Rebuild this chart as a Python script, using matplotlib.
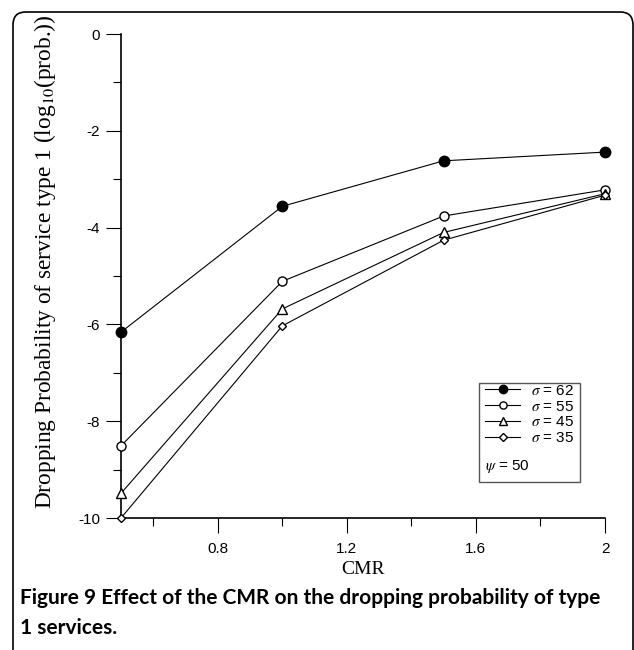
import matplotlib
matplotlib.use('Agg')
import matplotlib.pyplot as plt
from matplotlib.patches import FancyBboxPatch, Rectangle
from matplotlib.ticker import MultipleLocator, FixedLocator

plt.rcParams['axes.unicode_minus'] = False
plt.rcParams['mathtext.fontset'] = 'stix'

# data
cmr = [0.5, 1.0, 1.5, 2.0]
sigma62 = [-6.16, -3.56, -2.62, -2.44]
sigma55 = [-8.51, -5.11, -3.76, -3.22]
sigma45 = [-9.49, -5.68, -4.10, -3.30]
sigma35 = [-10.0, -6.03, -4.26, -3.33]
labels = [r'$\sigma$ = 62', r'$\sigma$ = 55', r'$\sigma$ = 45', r'$\sigma$ = 35']

W, H = 634, 650
fig = plt.figure(figsize=(W / 100, H / 100), dpi=100)
ax = fig.add_axes([121 / W, (H - 518) / H, 484 / W, 484 / H])

styles = [
    dict(marker='o', ms=7.5, mfc='black', mec='black'),
    dict(marker='o', ms=6.5, mfc='white', mec='black', mew=1.0),
    dict(marker='^', ms=7, mfc='white', mec='black', mew=1.0),
    dict(marker='D', ms=4.5, mfc='white', mec='black', mew=1.0),
]
series = [sigma62, sigma55, sigma45, sigma35]
handles = []
for s, st, lab in zip(series, styles, labels):
    h, = ax.plot(cmr, s, color='black', lw=0.8, label=lab, clip_on=False, zorder=3, **st)
    handles.append(h)

ax.set_xlim(0.5, 2.0)
ax.set_ylim(-10, 0)
ax.spines['top'].set_visible(False)
ax.spines['right'].set_visible(False)
ax.spines['left'].set_linewidth(1.2)
ax.spines['bottom'].set_linewidth(1.2)

ax.xaxis.set_major_locator(FixedLocator([0.8, 1.2, 1.6, 2.0]))
ax.xaxis.set_minor_locator(FixedLocator([0.6, 1.0, 1.4, 1.8]))
ax.set_xticklabels(['0.8', '1.2', '1.6', '2'])
ax.yaxis.set_major_locator(MultipleLocator(2))
ax.yaxis.set_minor_locator(MultipleLocator(1))
ax.tick_params(which='major', direction='out', length=11, width=0.8, labelsize=11,
               pad=4, colors='black')
ax.tick_params(which='minor', direction='out', length=5.5, width=0.8)
ax.tick_params(axis='x', which='major', pad=6)
for t in ax.get_xticklabels() + ax.get_yticklabels():
    t.set_fontfamily('Liberation Sans')

ax.set_xlabel('CMR', fontfamily='Liberation Serif', fontsize=14, labelpad=4)
ax.set_ylabel(r'Dropping Probability of service type 1 (log$_{10}$(prob.))',
              fontfamily='Liberation Serif', fontsize=16.8)
ax.yaxis.set_label_coords(-0.13, 0.53)

# legend box
leg = ax.legend(handles=handles, loc='upper left', bbox_to_anchor=(0.74, 0.29),
                frameon=False, fontsize=11, handlelength=2.3, handletextpad=0.7,
                labelspacing=0.12, borderaxespad=0, markerscale=0.8)
for t in leg.get_texts():
    t.set_fontfamily('Liberation Sans')
ax.add_patch(Rectangle((0.74, 0.074), 0.208, 0.205, transform=ax.transAxes,
                       fill=False, edgecolor='#555555', lw=1.0, clip_on=False))
ax.text(0.752, 0.107, r'$\psi$ = 50', transform=ax.transAxes, fontsize=11,
        fontfamily='Liberation Sans', va='center')

# rounded frame around the figure
frame = FancyBboxPatch((13 / W, -0.1), (633 - 13) / W, (H - 12) / H + 0.1,
                       boxstyle='round,pad=0,rounding_size=0.02',
                       transform=fig.transFigure, fill=False, edgecolor='black', lw=1.2)
fig.patches.append(frame)

fig.text(20 / W, (H - 598) / H, 'Figure 9 Effect of the CMR on the dropping probability of type',
         fontfamily='Lato', fontweight='bold', fontsize=15, va='center')
fig.text(20 / W, (H - 628) / H, '1 services.',
         fontfamily='Lato', fontweight='bold', fontsize=15, va='center')

fig.savefig('out.png', dpi=100)
